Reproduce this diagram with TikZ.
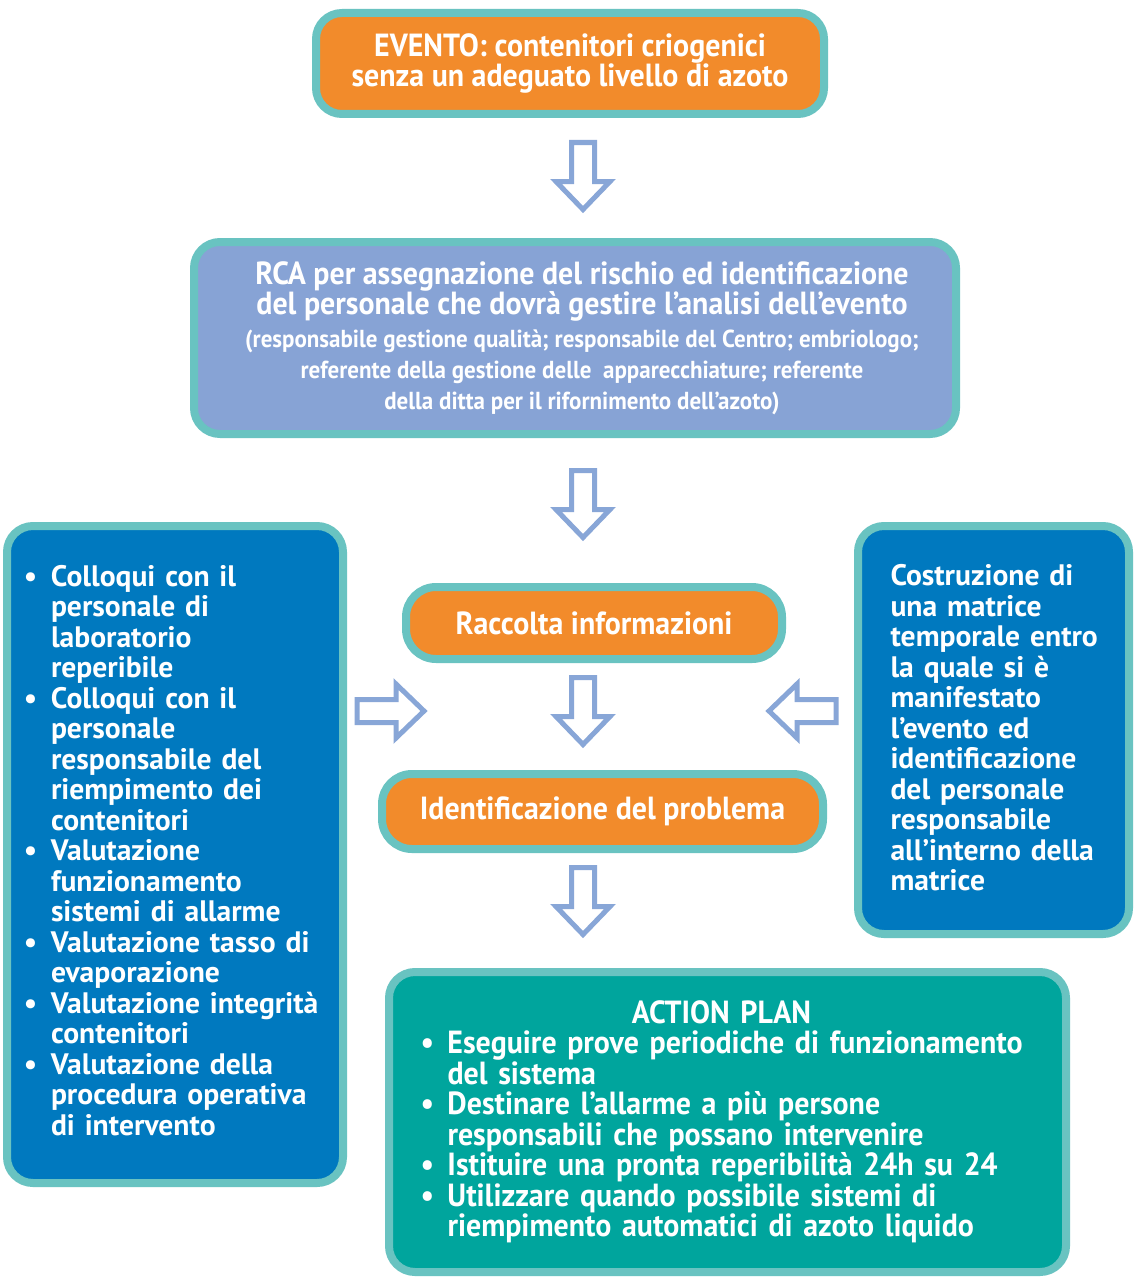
\documentclass[tikz,border=0pt]{standalone}
\usepackage{fontspec}
\setmainfont{PT Sans}
\newfontfamily\narrowsans[FakeStretch=0.935]{PT Sans}
\usetikzlibrary{positioning}
\definecolor{rimteal}{HTML}{69C3C1}
\definecolor{evorange}{HTML}{F28B2B}
\definecolor{rcablue}{HTML}{87A3D5}
\definecolor{sideblue}{HTML}{0079BF}
\definecolor{planteal}{HTML}{00A59D}
\definecolor{arrowblue}{HTML}{88A6D7}
\newcommand{\bul}{\makebox[13.5pt][l]{\textbullet}}
\newcommand{\cont}{\hspace*{13.5pt}}
\newcommand{\subfont}{\fontsize{12.3}{15.25}\selectfont}
\newcommand{\tightlines}{\lineskiplimit=-10pt\relax\lineskip=0pt\relax}

\begin{document}
\begin{tikzpicture}[x=0.5pt, y=-0.5pt,
  every node/.style={text=white, font=\narrowsans\bfseries\fontsize{16}{15.4}\selectfont},
  box/.style={draw=rimteal, line width=4pt, rounded corners=13pt, inner sep=0pt, align=center},
  listbox/.style={box, fill=sideblue, align=left, font=\bfseries\fontsize{14.8}{15.25}\selectfont},
  arrowline/.style={draw=arrowblue, line width=2.5pt, fill=white},
  blockarrow/.pic={\filldraw[arrowline] (-34,-11.5) -- (5,-11.5) -- (5,-27) -- (33,0) -- (5,27) -- (5,11.5) -- (-34,11.5) -- cycle;},
]
\path[use as bounding box, fill=white] (0,0) rectangle (1134,1279);

% central column
\node[box, fill=evorange, minimum width=254pt, minimum height=50.5pt] (evento) at (570,63.5)
  {EVENTO: contenitori criogenici\\senza un adeguato livello di azoto};
\node[box, fill=rcablue, minimum width=381pt, minimum height=96pt] (rca) at (575,338)
  {\hspace*{7pt}RCA per assegnazione del rischio ed identificazione\\
   \hspace*{7pt}del personale che dovrà gestire l’analisi dell’evento\\[1pt]
   {\subfont\hspace*{7pt}(responsabile gestione qualità; responsabile del Centro; embriologo;}\\
   {\subfont\hspace*{7pt}referente della gestione delle\ \ apparecchiature; referente}\\
   {\subfont\hspace*{7pt}della ditta per il rifornimento dell’azoto)}};
\node[box, fill=evorange, minimum width=188pt, minimum height=36pt, rounded corners=15pt] (raccolta) at (594,623)
  {Raccolta informazioni};
\node[box, fill=evorange, minimum width=220.5pt, minimum height=37.5pt, rounded corners=15pt] (problema) at (602.5,811.5)
  {\rule{0pt}{11pt}Identificazione del problema};

% side boxes
\node[listbox, minimum width=168pt, minimum height=328.5pt, text width=151pt, inner xsep=8.5pt] (colloqui) at (175,854.5)
  {\begin{tabular}{@{}l@{}l@{}}
   \bul & Colloqui con il\\
        & personale di\\
        & laboratorio\\
        & reperibile\\
   \bul & Colloqui con il\\
        & personale\\
        & responsabile del\\
        & riempimento dei\\
        & contenitori\\
   \bul & Valutazione\\
        & funzionamento\\
        & sistemi di allarme\\
   \bul & Valutazione tasso di\\
        & evaporazione\\
   \bul & Valutazione integrità\\
        & contenitori\\
   \bul & Valutazione della\\
        & procedura operativa\\
        & di intervento
   \end{tabular}};
\node[listbox, minimum width=135.5pt, minimum height=204pt, text width=103pt, inner xsep=16.25pt] (matrice) at (993.5,730)
  {\begin{tabular}{@{}l@{}}
   \rule{0pt}{13pt}Costruzione di\\
   una matrice\\
   temporale entro\\
   la quale si è\\
   manifestato\\
   l’evento ed\\
   identificazione\\
   del personale\\
   responsabile\\
   all’interno della\\
   matrice
   \end{tabular}};

% action plan
\node[box, fill=planteal, align=left, minimum width=338.5pt, minimum height=150pt, text width=307pt, inner xsep=15.75pt,
  font=\narrowsans\bfseries\fontsize{16}{15.25}\selectfont\tightlines] (action) at (727.5,1122)
  {\makebox[\linewidth]{ACTION PLAN\hspace*{6pt}}\\
   \bul Eseguire prove periodiche di funzionamento\\
   \cont del sistema\\
   \bul Destinare l’allarme a più persone\\
   \cont responsabili che possano intervenire\\
   \bul Istituire una pronta reperibilità 24h su 24\\
   \bul Utilizzare quando possibile sistemi di\\
   \cont riempimento automatici di azoto liquido};

% block arrows
\pic[rotate=-90] at (583,176.5) {blockarrow};
\pic[rotate=-90] at (583,504.5) {blockarrow};
\pic[rotate=-90] at (583,711.5) {blockarrow};
\pic[rotate=-90] at (583,901.5) {blockarrow};
\pic at (391,711) {blockarrow};
\pic[rotate=180] at (802,711) {blockarrow};

\end{tikzpicture}
\end{document}
